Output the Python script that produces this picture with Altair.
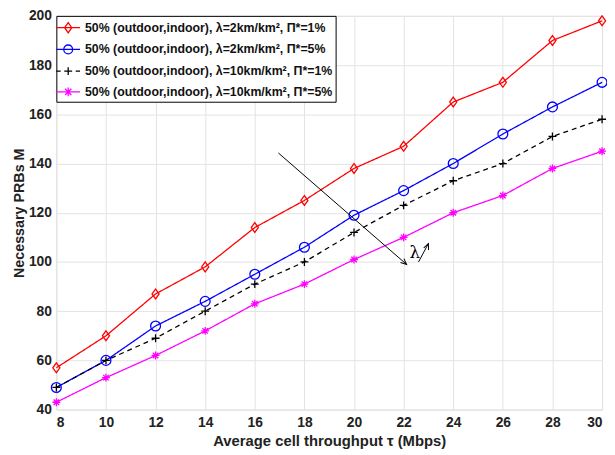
import altair as alt
import pandas as pd

throughput = [8, 10, 12, 14, 16, 18, 20, 22, 24, 26, 28, 30]
red_vals = [57, 70, 87, 98, 114, 125, 138, 147, 165, 173, 190, 198]
blue_vals = [49, 60, 74, 84, 95, 106, 119, 129, 140, 152, 163, 173]
black_vals = [49, 60, 69, 80, 91, 100, 112, 123, 133, 140, 151, 158]
magenta_vals = [43, 53, 62, 72, 83, 91, 101, 110, 120, 127, 138, 145]

names = [
    "50% (outdoor,indoor), λ=2km/km², Π*=1%",
    "50% (outdoor,indoor), λ=2km/km², Π*=5%",
    "50% (outdoor,indoor), λ=10km/km², Π*=1%",
    "50% (outdoor,indoor), λ=10km/km², Π*=5%",
]
colors = ["#ff0000", "#0000ff", "#000000", "#ff00ff"]
dashes = [[1, 0], [1, 0], [5, 4], [1, 0]]

marker_paths = [
    "M0,-1L0.72,0L0,1L-0.72,0Z",
    "M1,0A1,1 0 1,1 -1,0A1,1 0 1,1 1,0Z",
    "M-0.8,0L0.8,0M0,-0.8L0,0.8",
    "M-0.8,0L0.8,0M0,-0.8L0,0.8M-0.56,-0.56L0.56,0.56M-0.56,0.56L0.56,-0.56",
]
legend_paths = [
    "M-1.5,0L1.5,0M0,-0.65L0.45,0L0,0.65L-0.45,0Z",
    "M-1.5,0L1.5,0M0.56,0A0.56,0.56 0 1,1 -0.56,0A0.56,0.56 0 1,1 0.56,0Z",
    "M-1.5,0L-0.95,0M-0.5,0L0.5,0M0.95,0L1.5,0M0,-0.5L0,0.5",
    "M-1.5,0L1.5,0M0,-0.55L0,0.55M-0.4,-0.4L0.4,0.4M-0.4,0.4L0.4,-0.4",
]

rows = []
for name, vals in zip(names, [red_vals, blue_vals, black_vals, magenta_vals]):
    for t, v in zip(throughput, vals):
        rows.append({"tau": t, "M": v, "series": name})
df = pd.DataFrame(rows)

# annotation arrow
arrow_x = [16.95, 22.12]
arrow_y = [144.3, 99.0]
small_x = [22.6, 23.0]
small_y = [100.0, 107.5]
lam_x = [22.45]
lam_y = [103.5]

xs = alt.Scale(domain=[8, 30], nice=False)
ys = alt.Scale(domain=[40, 200], nice=False)
cs = alt.Scale(domain=names, range=colors)

xaxis = alt.Axis(values=throughput, title="Average cell throughput τ (Mbps)",
                 labelFontSize=14, labelFontWeight="bold", titleFontSize=15,
                 titleFontWeight="bold", gridColor="#e3e3e3", ticks=False,
                 domain=False, labelPadding=6, titlePadding=4, labelColor="#222", titleColor="#222")
yaxis = alt.Axis(values=list(range(40, 201, 20)), title="Necessary PRBs M",
                 labelFontSize=14, labelFontWeight="bold", titleFontSize=14.5,
                 titleFontWeight="bold", gridColor="#e3e3e3", ticks=False,
                 domain=False, labelPadding=5, titlePadding=2, labelColor="#222", titleColor="#222")

base = alt.Chart(df)

leg = alt.Legend(title=None, orient="top-left", offset=0, padding=3,
                 strokeColor="black", fillColor="white", labelFontSize=12.5,
                 labelFontWeight="bold", labelLimit=0, symbolSize=256,
                 symbolStrokeWidth=1.3, rowPadding=5, labelOffset=8,
                 symbolOpacity=1, labelColor="#111")

legend_layer = base.mark_point(filled=False, opacity=0).encode(
    x=alt.X("tau:Q", scale=xs, axis=xaxis),
    y=alt.Y("M:Q", scale=ys, axis=yaxis),
    color=alt.Color("series:N", scale=cs, legend=leg),
    shape=alt.Shape("series:N", scale=alt.Scale(domain=names, range=legend_paths), legend=leg),
)

series_layers = []
for name, col, dash, path in zip(names, colors, dashes, marker_paths):
    sub = base.transform_filter(alt.datum.series == name)
    series_layers.append(
        sub.mark_line(strokeWidth=1.3, color=col, strokeDash=dash).encode(x="tau:Q", y="M:Q")
    )
for name, col, dash, path in zip(names, colors, dashes, marker_paths):
    sub = base.transform_filter(alt.datum.series == name)
    series_layers.append(
        sub.mark_point(filled=False, size=100, strokeWidth=1.3, opacity=1, shape=path, color=col
                       ).encode(x="tau:Q", y="M:Q")
    )

arr_df = pd.DataFrame({"x": [arrow_x[0]], "y": [arrow_y[0]], "x2": [arrow_x[1]], "y2": [arrow_y[1]]})
arrow = alt.Chart(arr_df).mark_rule(color="black", strokeWidth=1).encode(
    x="x:Q", y="y:Q", x2="x2:Q", y2="y2:Q")
head_df = pd.DataFrame({"x": [arrow_x[1], small_x[1]], "y": [arrow_y[1], small_y[1]],
                        "ang": [131, 23]})
heads = alt.Chart(head_df).mark_point(
    shape="M-0.45,1L0,0L0.45,1", filled=False, color="black", size=140, strokeWidth=1, opacity=1
).encode(x="x:Q", y="y:Q", angle=alt.Angle("ang:Q", scale=None))
sm_df = pd.DataFrame({"x": [small_x[0]], "y": [small_y[0]], "x2": [small_x[1]], "y2": [small_y[1]]})
small = alt.Chart(sm_df).mark_rule(color="black", strokeWidth=1).encode(
    x="x:Q", y="y:Q", x2="x2:Q", y2="y2:Q")
lam = alt.Chart(pd.DataFrame({"x": lam_x, "y": lam_y, "t": ["λ"]})).mark_text(
    fontSize=17, font="DejaVu Serif", color="black"
).encode(x="x:Q", y="y:Q", text="t:N")

chart = alt.layer(legend_layer, *series_layers, arrow, small, heads, lam).properties(
    width=553, height=399,
    autosize=alt.AutoSizeParams(type="none"),
    padding={"left": 49, "top": 5, "right": 5, "bottom": 43},
).configure_view(stroke="black", strokeWidth=1.2).configure(
    font="Liberation Sans"
)

chart.save("out.html", embed_options={"renderer": "svg", "actions": False})
